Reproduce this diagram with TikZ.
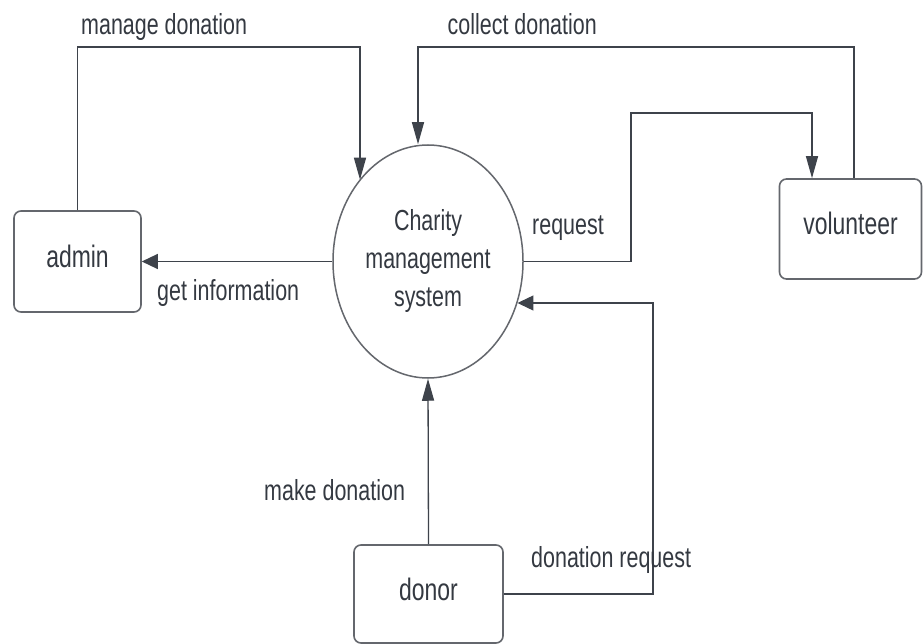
\documentclass[tikz,border=0pt]{standalone}
\usepackage{fontspec}
\setmainfont{Liberation Sans}[FakeStretch=0.74]
\usetikzlibrary{shapes.geometric,arrows.meta,calc}
\definecolor{ln}{RGB}{62,67,75}
\definecolor{tx}{RGB}{52,57,65}
\definecolor{bx}{RGB}{100,103,109}
\begin{document}
\begin{tikzpicture}[x=1pt,y=-1pt,
  box/.style={draw=bx, line width=1.6pt, rounded corners=7pt, inner sep=0pt,
    text=tx, font=\fontsize{31}{36}\selectfont, text height=17pt, text depth=5pt},
  lbl/.style={inner sep=0pt, text=tx, font=\fontsize{29}{36}\selectfont},
  conn/.style={draw=ln, line width=1.3pt},
  varr/.style={conn, -{Triangle[length=22pt,width=12pt]}},
  harr/.style={conn, -{Triangle[length=16pt,width=15pt]}}]
\useasboundingbox (0,0) rectangle (923,644);
\fill[white] (0,0) rectangle (923,644);

% nodes
\node[ellipse, draw=bx, line width=1.5pt, minimum width=190pt, minimum height=233pt,
  inner sep=0pt, align=center, text=tx, font=\fontsize{29}{38}\selectfont]
  (sys) at (428,261.5) {Charity\\management\\system};
\node[box, minimum width=127pt, minimum height=101pt] (admin) at (77.5,261.5) {admin};
\node[box, minimum width=142pt, minimum height=100pt] (vol) at (850.5,229) {volunteer};
\node[box, minimum width=149pt, minimum height=98pt] (donor) at (428.5,594) {donor};

% bend coordinates
\coordinate (md) at (360,47);
\coordinate (c1) at (854,47);
\coordinate (c2) at (418,47);
\coordinate (r1) at (631,113);
\coordinate (r2) at (812,113);
\coordinate (d1) at (653,303);

% connectors
\draw[varr] (admin.north) |- (md) -- (md |- sys.130);
\draw[varr] (c1 |- vol.north) -- (c1) -- (c2) -- (c2 |- sys.north);
\draw[varr] (sys.east) -| (r1) -- (r2) -- (r2 |- vol.north);
\draw[harr] (sys.west) -- (admin.east);
\draw[harr] (donor.east) -| (d1) -- (d1 -| sys.-25);
\draw[varr] (donor.north) -- (sys.south);

% labels
\node[lbl, anchor=base west] (lmd) at (81,35) {manage donation};
\node[lbl, anchor=base east] (lcd) at (597,35) {collect donation};
\node[lbl, anchor=base west] (lrq) at (532,235) {request};
\node[lbl, anchor=base west] (lgi) at (157,300) {get information};
\node[lbl, anchor=base west] (lmk) at (264,500) {make donation};
\node[lbl, anchor=base west] (ldr) at (531,567) {donation request};
\end{tikzpicture}
\end{document}
